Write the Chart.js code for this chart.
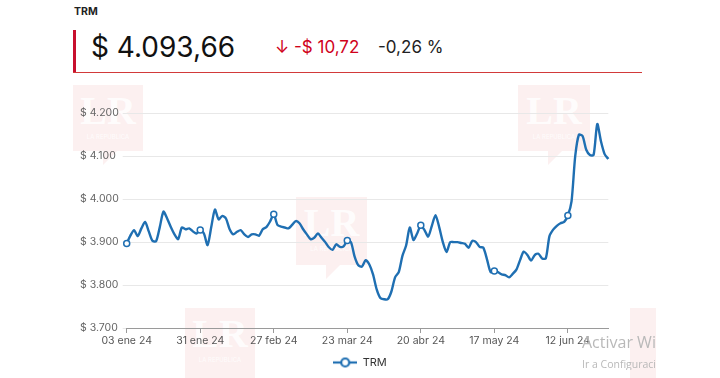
<!DOCTYPE html>
<html>
<head>
<meta charset="utf-8">
<script src="https://cdn.jsdelivr.net/npm/chart.js@4.4.1/dist/chart.umd.min.js"></script>
<style>
html,body{margin:0;padding:0;background:#fff;}
body{width:720px;height:378px;position:relative;overflow:hidden;font-family:Inter,"Noto Sans",sans-serif;}
.abs{position:absolute;white-space:nowrap;}
.wm{position:absolute;background:rgba(215,45,45,0.07);overflow:visible;}
.wm .lr{position:absolute;left:0;right:0;top:6px;text-align:center;font-family:"Liberation Serif",serif;font-weight:700;font-size:40px;line-height:40px;color:rgba(255,255,255,0.85);}
.wm .sub{position:absolute;left:0;right:0;top:48px;text-align:center;font-size:6px;color:rgba(255,255,255,0.85);}
.wm .tail{position:absolute;bottom:-14px;left:30px;width:0;height:0;border-left:0 solid transparent;border-right:14px solid transparent;border-top:14px solid rgba(215,45,45,0.07);}
#chartBox{position:absolute;left:0;top:80px;width:720px;height:298px;}
</style>
</head>
<body>
<div class="wm" style="left:73px;top:85px;width:70px;height:66px;"><div class="lr">LR</div><div class="sub">LA REPÚBLICA</div><div class="tail"></div></div>
<div class="wm" style="left:518px;top:85px;width:72px;height:66px;"><div class="lr">LR</div><div class="sub">LA REPÚBLICA</div><div class="tail"></div></div>
<div class="wm" style="left:296px;top:197px;width:71px;height:68px;"><div class="lr">LR</div><div class="sub">LA REPÚBLICA</div><div class="tail"></div></div>
<div class="wm" style="left:185px;top:308px;width:70px;height:70px;"><div class="lr">LR</div><div class="sub">LA REPÚBLICA</div></div>
<div class="wm" style="left:630px;top:308px;width:26px;height:70px;"></div>

<div class="abs" style="left:74px;top:7px;font-size:10.5px;line-height:10.5px;font-weight:700;color:#222;">TRM</div>
<div class="abs" style="left:73px;top:30px;width:3px;height:43px;background:#c8102e;"></div>
<div class="abs" style="left:73px;top:72px;width:569px;height:1px;background:#d23a3a;"></div>
<div class="abs" style="left:91px;top:33px;font-size:28px;line-height:28px;color:#111;">$ 4.093,66</div>
<div class="abs" style="left:275px;top:38.5px;font-size:17px;line-height:17px;color:#d0021b;">↓ -$ 10,72</div>
<div class="abs" style="left:378px;top:38.5px;font-size:17px;line-height:17px;color:#222;">-0,26 %</div>

<div id="chartBox"><canvas id="c"></canvas></div>

<div class="abs" style="left:582px;top:333px;width:73px;overflow:hidden;font-family:'Open Sans',sans-serif;font-size:16px;line-height:18px;color:#b9b9b9;">Activar Windows</div>
<div class="abs" style="left:582px;top:358px;width:73px;overflow:hidden;font-family:'Open Sans',sans-serif;font-size:10.5px;line-height:12px;color:#b9b9b9;">Ir a Configuración</div>

<script>
// ---- data ----
const tickLabels = ["03 ene 24","31 ene 24","27 feb 24","23 mar 24","20 abr 24","17 may 24","12 jun 24"];
const pointsPerTick = 20;
const trmValues = [
3897,3915,3928,3914,3932,3947,3925,3903,3902,3935,
3971,3955,3935,3918,3907,3934,3930,3932,3925,3920,
3928,3920,3893,3935,3976,3953,3961,3955,3930,3918,
3924,3928,3918,3912,3918,3918,3915,3930,3935,3948,
3965,3940,3936,3934,3932,3940,3949,3944,3930,3918,
3907,3910,3920,3910,3900,3888,3882,3895,3889,3890,
3904,3900,3866,3846,3843,3858,3848,3825,3790,3770,
3767,3767,3785,3818,3830,3868,3892,3934,3905,3920,
3939,3928,3913,3938,3963,3935,3900,3877,3900,3900,
3900,3898,3896,3887,3903,3900,3889,3887,3860,3830,
3833,3830,3825,3823,3818,3826,3836,3858,3878,3870,
3857,3870,3873,3862,3862,3914,3929,3938,3944,3947,
3962,3995,4100,4150,4147,4115,4103,4103,4175,4135,
4105,4093.66
];
const seriesName = "TRM";
const yMin = 3700, yMax = 4200, yStep = 100;

// ---- build ----
const labels = trmValues.map((v, i) => (i % pointsPerTick === 0 ? tickLabels[i / pointsPerTick] : ""));
const lineColor = "#1f6fb2";
const pointRadii = trmValues.map((v, i) => (i % pointsPerTick === 0 ? 3 : 0));

const fmt = v => "$ " + Math.floor(v / 1000) + "." + String(Math.round(v % 1000)).padStart(3, "0");

// legend icon: line with hollow circle
const icon = document.createElement("canvas");
icon.width = 24; icon.height = 12;
(function () {
  const g = icon.getContext("2d");
  g.strokeStyle = lineColor; g.lineWidth = 2.2;
  g.beginPath(); g.moveTo(0, 6); g.lineTo(24, 6); g.stroke();
  g.fillStyle = "#fff";
  g.beginPath(); g.arc(12, 6, 4, 0, Math.PI * 2); g.fill(); g.stroke();
})();

const centerLegend = {
  id: "centerLegend",
  afterLayout(chart) {
    const lg = chart.legend;
    if (lg) { lg.left = 0; lg.right = chart.width; lg.width = chart.width; }
  }
};

new Chart(document.getElementById("c"), {
  type: "line",
  data: {
    labels: labels,
    datasets: [{
      label: seriesName,
      data: trmValues,
      borderColor: lineColor,
      backgroundColor: "#fff",
      borderWidth: 2.4,
      tension: 0.25,
      pointRadius: pointRadii,
      pointHoverRadius: pointRadii,
      pointBackgroundColor: "#fff",
      pointBorderColor: lineColor,
      pointBorderWidth: 1.5,
      fill: false
    }]
  },
  options: {
    responsive: true,
    maintainAspectRatio: false,
    animation: false,
    layout: { padding: { left: 80, right: 111.7, top: 33.3, bottom: 0 } },
    plugins: {
      tooltip: { enabled: false },
      legend: {
        display: true,
        position: "bottom",
        labels: {
          usePointStyle: true,
          pointStyle: icon,
          pointStyleWidth: 24,
          padding: 6,
          color: "#333",
          font: { family: "Inter", size: 11 }
        }
      }
    },
    scales: {
      x: {
        type: "category",
        offset: false,
        afterBuildTicks: s => { s.ticks = s.ticks.filter(t => t.value % pointsPerTick === 0); },
        afterFit: s => { s.height = 23; },
        grid: { display: true, drawOnChartArea: false, drawTicks: true, tickLength: 5, color: "#9a9a9a" },
        border: { display: true, color: "#9a9a9a", width: 1 },
        ticks: { autoSkip: false, maxRotation: 0, padding: 2, color: "#555", font: { family: "Inter", size: 10.5 } }
      },
      y: {
        min: yMin, max: yMax,
        afterFit: s => { s.width = 46.7; },
        grid: { color: "#e8e8e8", tickLength: 4, drawTicks: true },
        border: { display: false },
        ticks: {
          stepSize: yStep,
          crossAlign: "far",
          color: "#666",
          font: { family: "Inter", size: 10.5 },
          callback: v => fmt(v)
        }
      }
    }
  },
  plugins: [centerLegend]
});
</script>
</body>
</html>
